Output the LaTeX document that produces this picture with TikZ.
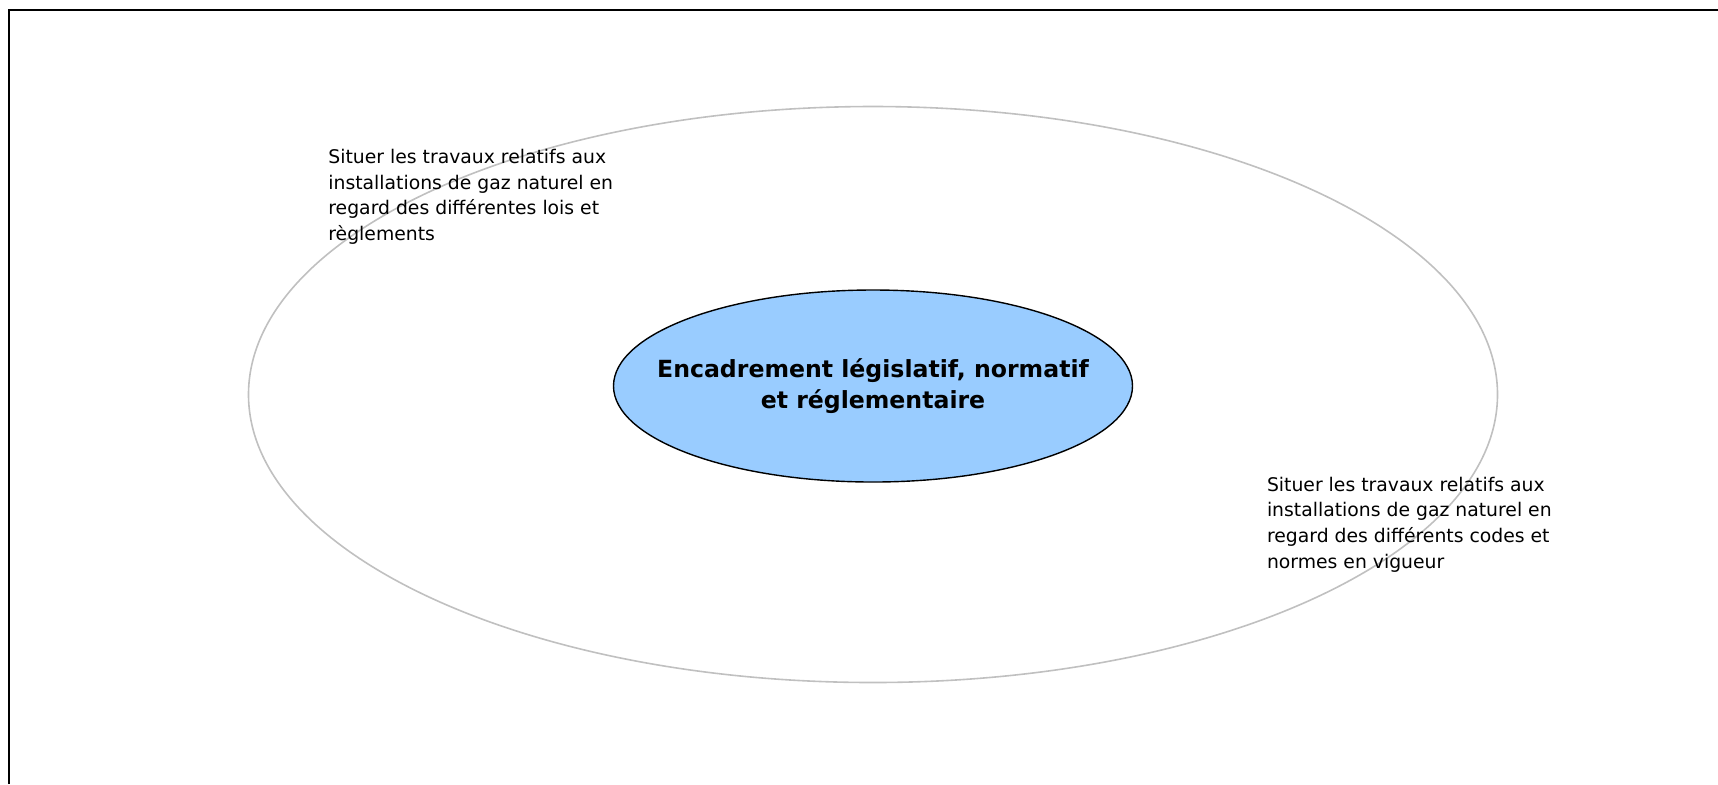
\documentclass[tikz,border=0pt]{standalone}
\usepackage{fontspec}
\setmainfont{DejaVu Sans}
\usetikzlibrary{shapes.geometric}
\definecolor{ringgray}{HTML}{C0C0C0}
\definecolor{coreblue}{HTML}{99CCFF}
\begin{document}
\begin{tikzpicture}[x=1pt, y=1pt]
\useasboundingbox (0,0) rectangle (859,-392);
\draw[line width=1.2pt] (4.5,-392) -- (4.5,-5) -- (859,-5);
\node[ellipse, draw=ringgray, line width=0.8pt, minimum width=624.5pt, minimum height=288pt, inner sep=0pt] (O) at (436.5,-197.25) {};
\node[ellipse, draw, fill=coreblue, line width=0.7pt, minimum width=259.5pt, minimum height=96pt, inner sep=0pt] (C) at (436.5,-193) {};
\node[inner sep=0pt, align=center, font=\fontsize{11.8}{15.3}\selectfont\bfseries] (C_t) at (C.center) {Encadrement législatif, normatif\\et réglementaire};
\node[anchor=north west, inner sep=0pt, align=left, font=\fontsize{9.4}{12.75}\selectfont] (T_0) at (164,-74.5) {Situer les travaux relatifs aux\\installations de gaz naturel en\\regard des différentes lois et\\règlements};
\node[anchor=north west, inner sep=0pt, align=left, font=\fontsize{9.4}{12.75}\selectfont] (T_1) at (633.3,-238.4) {Situer les travaux relatifs aux\\installations de gaz naturel en\\regard des différents codes et\\normes en vigueur};
\end{tikzpicture}
\end{document}
